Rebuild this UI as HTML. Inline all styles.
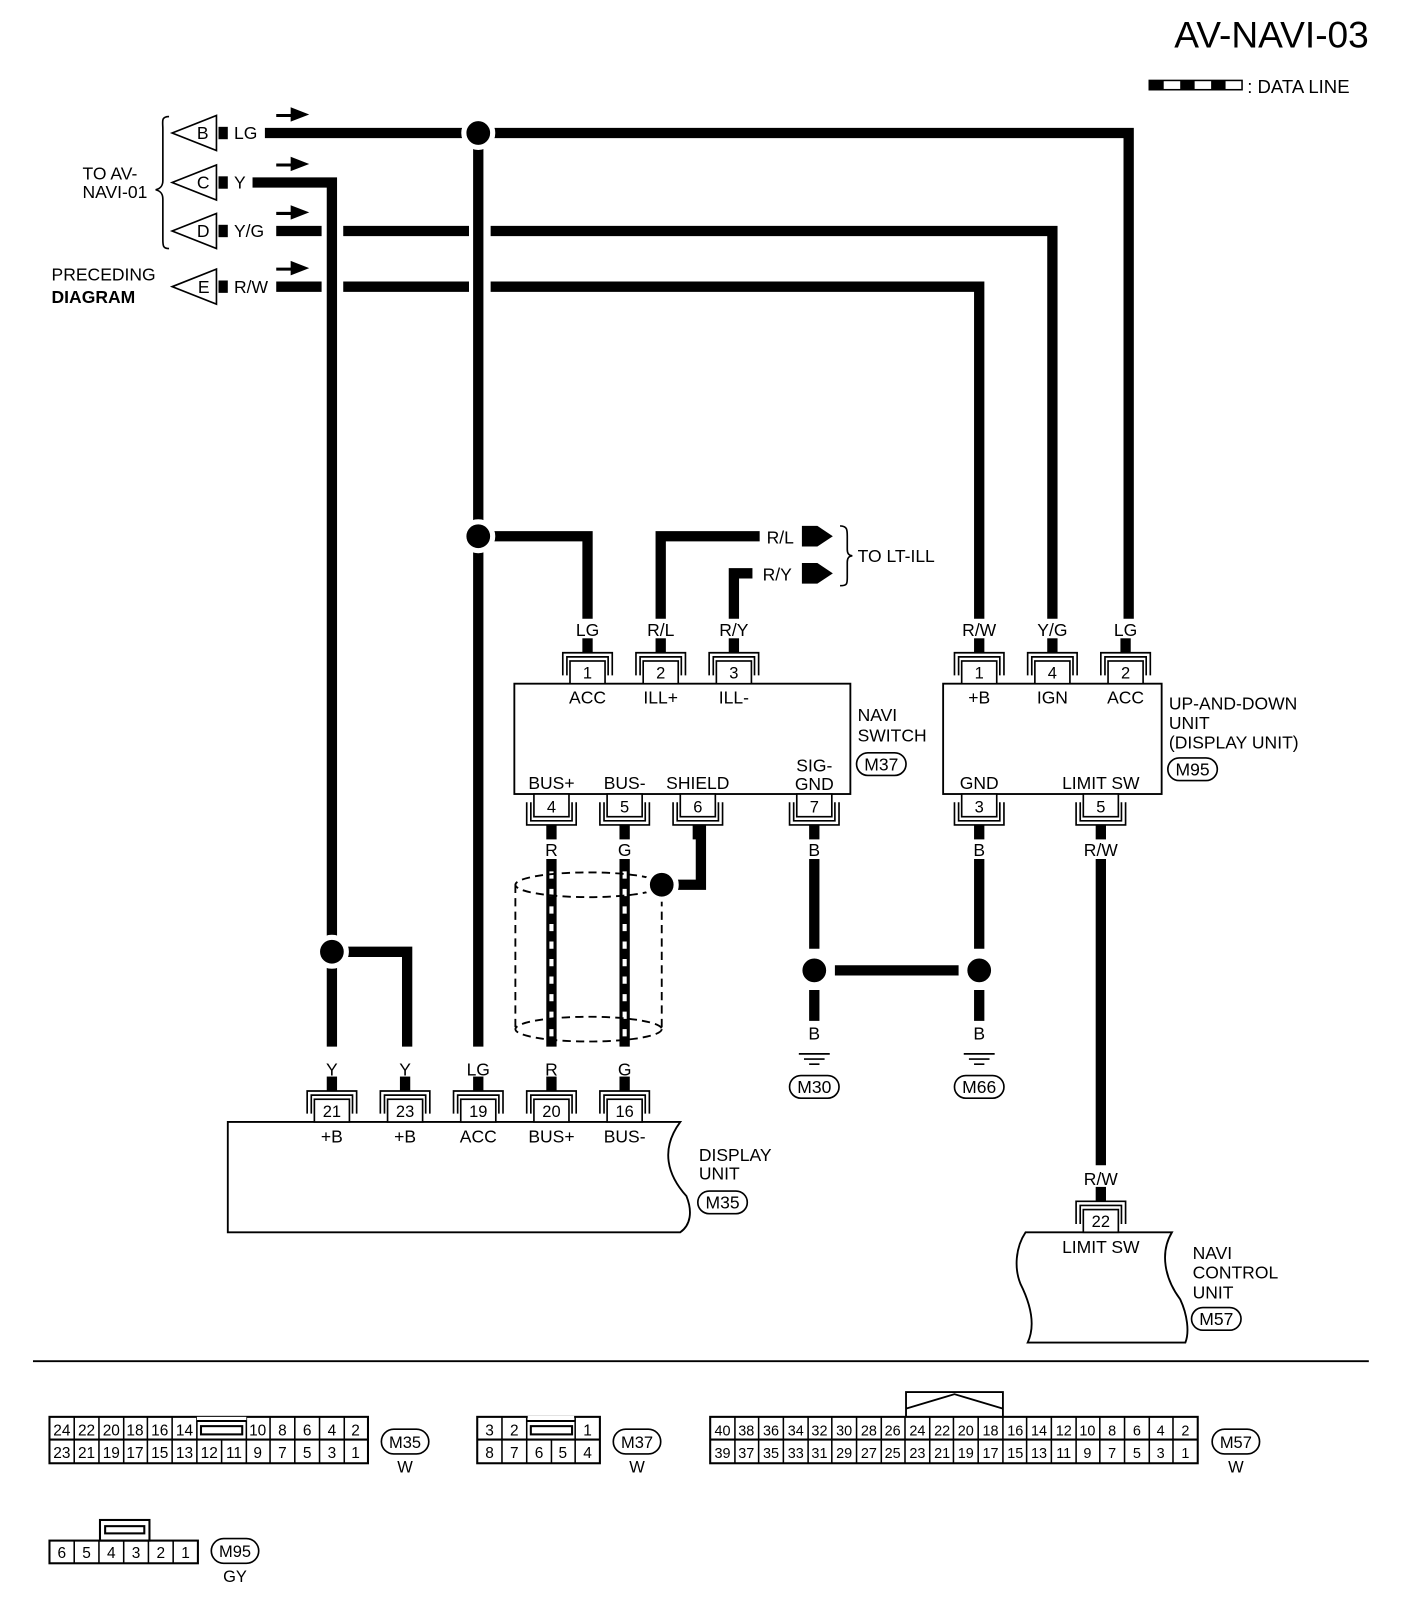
<!DOCTYPE html>
<html><head><meta charset="utf-8"><style>
html,body{margin:0;padding:0;background:#fff}
svg{display:block}
text{font-family:"Liberation Sans",sans-serif;fill:#000}
</style></head><body>
<svg width="1408" height="1620" viewBox="0 0 1366 1571" preserveAspectRatio="none" xmlns="http://www.w3.org/2000/svg">
<defs>
<g id="pt" fill="none" stroke="#000" stroke-width="1.6">
<path d="M-24,-8 V-30 H24 V-8 M-20,-8 V-26 H20 V-8"/>
<rect x="-17" y="-22" width="34" height="22" fill="#fff"/>
<rect x="-5" y="-44" width="10" height="14" fill="#000" stroke="none"/>
</g>
<g id="pb" fill="none" stroke="#000" stroke-width="1.6">
<path d="M-24,8 V30 H24 V8 M-20,8 V26 H20 V8"/>
<rect x="-17" y="0" width="34" height="22" fill="#fff"/>
<rect x="-5" y="30" width="10" height="14" fill="#000" stroke="none"/>
</g>
<g id="gnd" stroke="#000" stroke-width="1.6">
<line x1="-15" y1="0" x2="15" y2="0"/><line x1="-10" y1="5" x2="10" y2="5"/><line x1="-5" y1="10" x2="5" y2="10"/>
</g>
</defs>

<text x="1328" y="46" font-size="36" text-anchor="end">AV-NAVI-03</text>
<rect x="1115" y="78" width="90" height="9" fill="none" stroke="#000" stroke-width="1.5"/>
<rect x="1115" y="78" width="14" height="9"/><rect x="1145" y="78" width="14" height="9"/><rect x="1175" y="78" width="14" height="9"/>
<text x="1210" y="90" font-size="18">: DATA LINE</text>

<g font-size="17">
<g fill="#fff" stroke="#000" stroke-width="1.6">
<polygon points="210,112 210,146 167,129"/><polygon points="210,160 210,194 167,177"/>
<polygon points="210,207 210,241 167,224"/><polygon points="210,261 210,295 167,278"/>
</g>
<text x="191" y="135" font-size="17">B</text><text x="191" y="183" font-size="17">C</text>
<text x="191" y="230" font-size="17">D</text><text x="192" y="284" font-size="17">E</text>
<rect x="212" y="123" width="9" height="12"/><rect x="212" y="171" width="9" height="12"/>
<rect x="212" y="218" width="9" height="12"/><rect x="212" y="272" width="9" height="12"/>
<text x="227" y="135">LG</text><text x="227" y="183">Y</text><text x="227" y="230">Y/G</text><text x="227" y="284">R/W</text>
<g stroke="#000" stroke-width="3"><line x1="268" y1="112" x2="284" y2="112"/><line x1="268" y1="160" x2="284" y2="160"/><line x1="268" y1="207" x2="284" y2="207"/><line x1="268" y1="261" x2="284" y2="261"/></g>
<polygon points="282,104 300,111 282,118"/><polygon points="282,152 300,159 282,166"/><polygon points="282,199 300,206 282,213"/><polygon points="282,253 300,260 282,267"/>
<path d="M164,113 C156,113 158,118 158,125 V175 C158,181 155,183 151,184 C155,185 158,187 158,193 V232 C158,238 158,241 164,241" fill="none" stroke="#000" stroke-width="1.6"/>
<text x="80" y="174">TO AV-</text><text x="80" y="192">NAVI-01</text>
<text x="50" y="272">PRECEDING</text><text x="50" y="294" font-weight="bold">DIAGRAM</text>
</g>

<g fill="none" stroke="#000" stroke-width="10">
<path d="M257,129 H1095 V600"/>
<path d="M464,129 V1015"/>
<path d="M464,520 H570 V600"/>
<path d="M245,177 H322 V1015"/>
<path d="M322,923 H395 V1015"/>
<path d="M268,224 H312 M333,224 H455 M476,224 H1021 V600"/>
<path d="M268,278 H312 M333,278 H455 M476,278 H950 V600"/>
<path d="M641,600 V520 H737"/>
<path d="M712,600 V556 H730"/>
<path d="M790,833 V920 M790,960 V990 M950,833 V920 M950,960 V990 M810,941 H930"/>
<path d="M1068,833 V1130"/>
<path d="M642,858 H680 V800"/>
<path d="M535,833 V1015 M606,833 V1015"/>
</g>
<g fill="none" stroke="#fff" stroke-width="4" stroke-dasharray="7 10">
<path d="M535,845 V1005 M606,845 V1005"/>
</g>
<g fill="none" stroke="#000" stroke-width="1.8" stroke-dasharray="8 5">
<ellipse cx="571" cy="858" rx="71" ry="12"/><ellipse cx="571" cy="998" rx="71" ry="12"/>
<line x1="500" y1="858" x2="500" y2="998"/><line x1="642" y1="858" x2="642" y2="998"/>
</g>
<g stroke="#fff" stroke-width="5">
<circle cx="464" cy="129" r="14"/><circle cx="464" cy="520" r="14"/><circle cx="322" cy="923" r="14"/>
<circle cx="642" cy="858" r="14"/><circle cx="790" cy="941" r="14"/><circle cx="950" cy="941" r="14"/>
</g>
<polygon points="778,510 793,510 808,520 793,530 778,530"/>
<polygon points="778,546 793,546 808,556 793,566 778,566"/>

<g font-size="17" text-anchor="middle">
<text x="757" y="527">R/L</text><text x="754" y="563">R/Y</text>
<path d="M815,510 C822,510 822,514 822,520 V533 C822,537 824,539 827,539 C824,539 822,541 822,545 V560 C822,566 822,568 815,568" fill="none" stroke="#000" stroke-width="1.6"/>
<text x="832" y="545" text-anchor="start">TO LT-ILL</text>

<text x="570" y="617">LG</text><text x="641" y="617">R/L</text><text x="712" y="617">R/Y</text>
<text x="950" y="617">R/W</text><text x="1021" y="617">Y/G</text><text x="1092" y="617">LG</text>

<rect x="499" y="663" width="326" height="107" fill="#fff" stroke="#000" stroke-width="1.8"/>
<use href="#pt" x="570" y="663"/><use href="#pt" x="641" y="663"/><use href="#pt" x="712" y="663"/>
<text x="570" y="658" font-size="16">1</text><text x="641" y="658" font-size="16">2</text><text x="712" y="658" font-size="16">3</text>
<text x="570" y="682">ACC</text><text x="641" y="682">ILL+</text><text x="712" y="682">ILL-</text>
<use href="#pb" x="535" y="770"/><use href="#pb" x="606" y="770"/><use href="#pb" x="677" y="770"/><use href="#pb" x="790" y="770"/>
<text x="535" y="788" font-size="16">4</text><text x="606" y="788" font-size="16">5</text><text x="677" y="788" font-size="16">6</text><text x="790" y="788" font-size="16">7</text>
<text x="535" y="765">BUS+</text><text x="606" y="765">BUS-</text><text x="677" y="765">SHIELD</text>
<text x="790" y="748">SIG-</text><text x="790" y="766">GND</text>
<text x="832" y="699" text-anchor="start">NAVI</text><text x="832" y="719" text-anchor="start">SWITCH</text>
<rect x="831" y="730" width="48" height="22" rx="11" fill="none" stroke="#000" stroke-width="1.6"/><text x="855" y="747">M37</text>

<rect x="915" y="663" width="212" height="107" fill="#fff" stroke="#000" stroke-width="1.8"/>
<use href="#pt" x="950" y="663"/><use href="#pt" x="1021" y="663"/><use href="#pt" x="1092" y="663"/>
<text x="950" y="658" font-size="16">1</text><text x="1021" y="658" font-size="16">4</text><text x="1092" y="658" font-size="16">2</text>
<text x="950" y="682">+B</text><text x="1021" y="682">IGN</text><text x="1092" y="682">ACC</text>
<use href="#pb" x="950" y="770"/><use href="#pb" x="1068" y="770"/>
<text x="950" y="788" font-size="16">3</text><text x="1068" y="788" font-size="16">5</text>
<text x="950" y="765">GND</text><text x="1068" y="765">LIMIT SW</text>
<text x="1134" y="688" text-anchor="start">UP-AND-DOWN</text><text x="1134" y="707" text-anchor="start">UNIT</text><text x="1134" y="726" text-anchor="start">(DISPLAY UNIT)</text>
<rect x="1133" y="735" width="48" height="22" rx="11" fill="none" stroke="#000" stroke-width="1.6"/><text x="1157" y="752">M95</text>

<text x="535" y="830">R</text><text x="606" y="830">G</text><text x="790" y="830">B</text><text x="950" y="830">B</text><text x="1068" y="830">R/W</text>

<text x="790" y="1008">B</text><text x="950" y="1008">B</text>
<use href="#gnd" x="790" y="1022"/><use href="#gnd" x="950" y="1022"/>
<rect x="766" y="1043" width="48" height="22" rx="11" fill="none" stroke="#000" stroke-width="1.6"/><text x="790" y="1060">M30</text>
<rect x="926" y="1043" width="48" height="22" rx="11" fill="none" stroke="#000" stroke-width="1.6"/><text x="950" y="1060">M66</text>

<text x="322" y="1043">Y</text><text x="393" y="1043">Y</text><text x="464" y="1043">LG</text><text x="535" y="1043">R</text><text x="606" y="1043">G</text>
<path d="M221,1088 H660 C640,1115 648,1140 666,1160 C672,1175 670,1188 660,1195 H221 Z" fill="#fff" stroke="#000" stroke-width="1.8"/>
<use href="#pt" x="322" y="1088"/><use href="#pt" x="393" y="1088"/><use href="#pt" x="464" y="1088"/><use href="#pt" x="535" y="1088"/><use href="#pt" x="606" y="1088"/>
<text x="322" y="1083" font-size="16">21</text><text x="393" y="1083" font-size="16">23</text><text x="464" y="1083" font-size="16">19</text><text x="535" y="1083" font-size="16">20</text><text x="606" y="1083" font-size="16">16</text>
<text x="322" y="1108">+B</text><text x="393" y="1108">+B</text><text x="464" y="1108">ACC</text><text x="535" y="1108">BUS+</text><text x="606" y="1108">BUS-</text>
<text x="678" y="1126" text-anchor="start">DISPLAY</text><text x="678" y="1144" text-anchor="start">UNIT</text>
<rect x="677" y="1155" width="48" height="22" rx="11" fill="none" stroke="#000" stroke-width="1.6"/><text x="701" y="1172">M35</text>

<text x="1068" y="1149">R/W</text>
<path d="M995,1195 H1137 C1125,1215 1130,1240 1145,1260 C1152,1275 1154,1292 1150,1302 H997 C1005,1285 1000,1265 990,1245 C984,1230 985,1210 995,1195 Z" fill="#fff" stroke="#000" stroke-width="1.8"/>
<use href="#pt" x="1068" y="1195"/><text x="1068" y="1190" font-size="16">22</text>
<text x="1068" y="1215">LIMIT SW</text>
<text x="1157" y="1221" text-anchor="start">NAVI</text><text x="1157" y="1240" text-anchor="start">CONTROL</text><text x="1157" y="1259" text-anchor="start">UNIT</text>
<rect x="1156" y="1268" width="48" height="22" rx="11" fill="none" stroke="#000" stroke-width="1.6"/><text x="1180" y="1285">M57</text>
</g>

<line x1="32" y1="1320" x2="1328" y2="1320" stroke="#000" stroke-width="1.8"/>

<g font-size="15" text-anchor="middle" stroke="#000" stroke-width="1.5" fill="none">
<rect x="48" y="1374" width="309" height="45" stroke-width="2"/>
<line x1="48" y1="1396" x2="357" y2="1396" stroke-width="2"/>
<path d="M191,1374 V1419 M239,1374 V1419 M72,1374 V1419 M96,1374 V1419 M120,1374 V1419 M143,1374 V1419 M167,1374 V1419 M215,1396 V1419 M262,1374 V1419 M286,1374 V1419 M310,1374 V1419 M334,1374 V1419"/>
<rect x="195" y="1383" width="40" height="8" stroke-width="2"/>
<rect x="191" y="1374" width="48" height="4" fill="#fff" stroke="none"/>
<line x1="191" y1="1378" x2="239" y2="1378" stroke-width="2"/>
</g>
<g font-size="15" text-anchor="middle">
<text x="60" y="1392">24</text><text x="84" y="1392">22</text><text x="108" y="1392">20</text><text x="131" y="1392">18</text><text x="155" y="1392">16</text><text x="179" y="1392">14</text>
<text x="250" y="1392">10</text><text x="274" y="1392">8</text><text x="298" y="1392">6</text><text x="322" y="1392">4</text><text x="345" y="1392">2</text>
<text x="60" y="1414">23</text><text x="84" y="1414">21</text><text x="108" y="1414">19</text><text x="131" y="1414">17</text><text x="155" y="1414">15</text><text x="179" y="1414">13</text><text x="203" y="1414">12</text><text x="227" y="1414">11</text>
<text x="250" y="1414">9</text><text x="274" y="1414">7</text><text x="298" y="1414">5</text><text x="322" y="1414">3</text><text x="345" y="1414">1</text>
<rect x="370" y="1386" width="46" height="24" rx="12" fill="none" stroke="#000" stroke-width="1.6"/><text x="393" y="1404" font-size="16">M35</text><text x="393" y="1428" font-size="16">W</text>

<g stroke="#000" stroke-width="1.5" fill="none">
<rect x="463" y="1374" width="119" height="45" stroke-width="2"/>
<line x1="463" y1="1396" x2="582" y2="1396" stroke-width="2"/>
<path d="M487,1374 V1419 M511,1374 V1419 M535,1396 V1419 M558,1374 V1419"/>
<rect x="515" y="1383" width="40" height="8" stroke-width="2"/>
<line x1="511" y1="1378" x2="558" y2="1378" stroke-width="2"/>
</g>
<rect x="512" y="1373" width="45" height="4" fill="#fff"/>
<text x="475" y="1392">3</text><text x="499" y="1392">2</text><text x="570" y="1392">1</text>
<text x="475" y="1414">8</text><text x="499" y="1414">7</text><text x="523" y="1414">6</text><text x="546" y="1414">5</text><text x="570" y="1414">4</text>
<rect x="595" y="1386" width="46" height="24" rx="12" fill="none" stroke="#000" stroke-width="1.6"/><text x="618" y="1404" font-size="16">M37</text><text x="618" y="1428" font-size="16">W</text>

<g stroke="#000" stroke-width="1.5" fill="none">
<rect x="689" y="1374" width="473" height="45" stroke-width="2"/>
<line x1="689" y1="1396" x2="1162" y2="1396" stroke-width="2"/>
<path d="M713,1374V1419 M736,1374V1419 M760,1374V1419 M784,1374V1419 M807,1374V1419 M831,1374V1419 M855,1374V1419 M878,1374V1419 M902,1374V1419 M925,1374V1419 M949,1374V1419 M973,1374V1419 M996,1374V1419 M1020,1374V1419 M1044,1374V1419 M1067,1374V1419 M1091,1374V1419 M1115,1374V1419 M1138,1374V1419"/>
<path d="M879,1374 V1350 H973 V1374 M879,1366 L926,1352 L973,1366" stroke-width="1.8"/>
</g>
<g font-size="14">
<text x="701" y="1392">40</text><text x="724" y="1392">38</text><text x="748" y="1392">36</text><text x="772" y="1392">34</text><text x="795" y="1392">32</text><text x="819" y="1392">30</text><text x="843" y="1392">28</text><text x="866" y="1392">26</text><text x="890" y="1392">24</text><text x="914" y="1392">22</text><text x="937" y="1392">20</text><text x="961" y="1392">18</text><text x="985" y="1392">16</text><text x="1008" y="1392">14</text><text x="1032" y="1392">12</text><text x="1055" y="1392">10</text><text x="1079" y="1392">8</text><text x="1103" y="1392">6</text><text x="1126" y="1392">4</text><text x="1150" y="1392">2</text>
<text x="701" y="1414">39</text><text x="724" y="1414">37</text><text x="748" y="1414">35</text><text x="772" y="1414">33</text><text x="795" y="1414">31</text><text x="819" y="1414">29</text><text x="843" y="1414">27</text><text x="866" y="1414">25</text><text x="890" y="1414">23</text><text x="914" y="1414">21</text><text x="937" y="1414">19</text><text x="961" y="1414">17</text><text x="985" y="1414">15</text><text x="1008" y="1414">13</text><text x="1032" y="1414">11</text><text x="1055" y="1414">9</text><text x="1079" y="1414">7</text><text x="1103" y="1414">5</text><text x="1126" y="1414">3</text><text x="1150" y="1414">1</text>
</g>
<rect x="1176" y="1386" width="46" height="24" rx="12" fill="none" stroke="#000" stroke-width="1.6"/><text x="1199" y="1404" font-size="16">M57</text><text x="1199" y="1428" font-size="16">W</text>

<g stroke="#000" stroke-width="1.5" fill="none">
<rect x="48" y="1494" width="144" height="22" stroke-width="2"/>
<path d="M72,1494V1516 M96,1494V1516 M120,1494V1516 M144,1494V1516 M168,1494V1516"/>
<rect x="97" y="1474" width="48" height="20" stroke-width="2"/>
<rect x="102" y="1480" width="38" height="7" stroke-width="2"/>
</g>
<text x="60" y="1511">6</text><text x="84" y="1511">5</text><text x="108" y="1511">4</text><text x="132" y="1511">3</text><text x="156" y="1511">2</text><text x="180" y="1511">1</text>
<rect x="205" y="1492" width="46" height="24" rx="12" fill="none" stroke="#000" stroke-width="1.6"/><text x="228" y="1510" font-size="16">M95</text><text x="228" y="1534" font-size="16">GY</text>
</g>
</svg>
</body></html>
